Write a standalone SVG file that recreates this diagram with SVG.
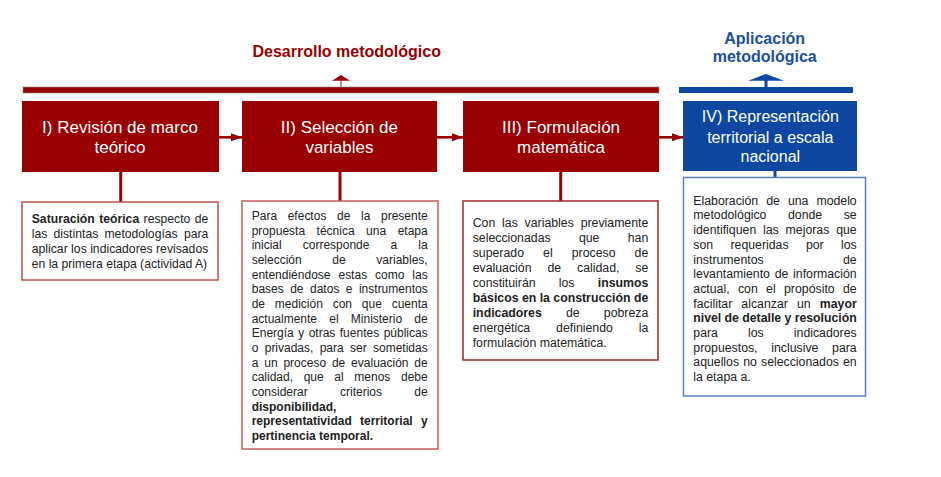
<svg xmlns="http://www.w3.org/2000/svg" width="941" height="477" viewBox="0 0 941 477">
<style>
.t{font-family:"Liberation Sans",Arial,sans-serif;fill:#222}
.b{font-weight:bold}
.hd{font-family:"Liberation Sans",Arial,sans-serif;font-weight:bold;font-size:16px;text-anchor:middle}
.nt{font-family:"Liberation Sans",Arial,sans-serif;fill:#fff;text-anchor:middle}
.red{fill:#990000}
.blue{fill:#0D47A1}
.conn{stroke:#990000;stroke-width:2.6;fill:none}
.f1{font-size:12.2px}
.f2{font-size:12px}
.f3{font-size:12.3px}
</style>
<defs>
<marker id="ah" viewBox="0 0 11 8" refX="11" refY="4" markerWidth="11" markerHeight="8" markerUnits="userSpaceOnUse" orient="auto">
<path d="M0,0 L11,4 L0,8 z" fill="#990000"/>
</marker>
</defs>
<rect width="941" height="477" fill="#fff"/>

<g id="header-desarrollo">
<text class="hd" x="346.7" y="56.7" fill="#990000">Desarrollo metodológico</text>
<rect x="23" y="87" width="636" height="6" fill="#990000" stroke="#8a8a8a" stroke-width="0.6"/>
<line x1="341" y1="80.5" x2="341" y2="87" stroke="#8a8a8a" stroke-width="1.6"/>
<polygon points="332,80.7 350,80.7 341,75" fill="#990000"/>
</g>

<g id="header-aplicacion">
<text class="hd" x="764.7" y="44" fill="#1A4FA3">Aplicación</text>
<text class="hd" x="764.7" y="62.3" fill="#1A4FA3">metodológica</text>
<rect x="679" y="87" width="174" height="6" fill="#0D47A1"/>
<rect x="764.5" y="80" width="3" height="7" fill="#0D47A1"/>
<polygon points="748,80.7 784,80.7 766,74" fill="#0D47A1"/>
</g>

<g id="connectors">
<line class="conn" x1="219" y1="137.3" x2="242" y2="137.3" marker-end="url(#ah)"/>
<line class="conn" x1="437" y1="137.3" x2="463" y2="137.3" marker-end="url(#ah)"/>
<line class="conn" x1="659" y1="137.3" x2="683" y2="137.3" marker-end="url(#ah)"/>
<line stroke="#990000" stroke-width="3" x1="120.7" y1="172" x2="120.7" y2="202"/>
<line stroke="#990000" stroke-width="3" x1="340" y1="172" x2="340" y2="201"/>
<line stroke="#990000" stroke-width="3" x1="560.7" y1="172" x2="560.7" y2="201"/>
<line stroke="#0D47A1" stroke-width="3" x1="775" y1="171" x2="775" y2="177.5"/>
</g>

<g id="node-1">
<rect class="red" x="22" y="101" width="197" height="71"/>
<text class="nt" x="120" y="132.7" font-size="17">I) Revisión de marco</text>
<text class="nt" x="120" y="153.3" font-size="17">teórico</text>
</g>

<g id="node-2">
<rect class="red" x="242" y="101" width="195" height="71"/>
<text class="nt" x="339.4" y="132.7" font-size="17">II) Selección de</text>
<text class="nt" x="339.4" y="153.3" font-size="17">variables</text>
</g>

<g id="node-3">
<rect class="red" x="463" y="101" width="196" height="71"/>
<text class="nt" x="561" y="132.7" font-size="17">III) Formulación</text>
<text class="nt" x="561" y="153.3" font-size="17">matemática</text>
</g>

<g id="node-4">
<rect class="blue" x="683" y="101" width="174" height="70"/>
<text class="nt" x="770.3" y="122.3" font-size="16">IV) Representación</text>
<text class="nt" x="770.3" y="142.7" font-size="16">territorial a escala</text>
<text class="nt" x="770.3" y="162.3" font-size="16">nacional</text>
</g>

<g id="note-1">
<rect x="22" y="202" width="196" height="78" fill="#fff" stroke="#C0504D" stroke-width="1.5"/>
<text class="t f1" x="31.7" y="223.3" textLength="176.6" lengthAdjust="spacing" style="word-spacing:1px"><tspan class="b">Saturación teórica</tspan> respecto de</text>
<text class="t f1" x="31.7" y="238.2" textLength="176.6" lengthAdjust="spacing" style="word-spacing:2.8px">las distintas metodologías para</text>
<text class="t f1" x="31.7" y="253.1" textLength="176.6" lengthAdjust="spacing">aplicar los indicadores revisados</text>
<text class="t f1" x="31.7" y="268">en la primera etapa (actividad A)</text>
</g>

<g id="note-2">
<rect x="242" y="201" width="196" height="248" fill="#fff" stroke="#C85A5A" stroke-width="1.5"/>
<text class="t f2" x="251.7" y="220" textLength="176" lengthAdjust="spacing" style="word-spacing:7.3px">Para efectos de la presente</text>
<text class="t f2" x="251.7" y="234.67" textLength="176" lengthAdjust="spacing" style="word-spacing:8.2px">propuesta técnica una etapa</text>
<text class="t f2" x="251.7" y="249.33" textLength="176" lengthAdjust="spacing" style="word-spacing:17.8px">inicial corresponde a la</text>
<text class="t f2" x="251.7" y="264" textLength="176" lengthAdjust="spacing" style="word-spacing:27.3px">selección de variables,</text>
<text class="t f2" x="251.7" y="278.67" textLength="176" lengthAdjust="spacing" style="word-spacing:4.6px">entendiéndose estas como las</text>
<text class="t f2" x="251.7" y="293.33" textLength="176" lengthAdjust="spacing" style="word-spacing:3.1px">bases de datos e instrumentos</text>
<text class="t f2" x="251.7" y="308" textLength="176" lengthAdjust="spacing" style="word-spacing:6.5px">de medición con que cuenta</text>
<text class="t f2" x="251.7" y="322.67" textLength="176" lengthAdjust="spacing" style="word-spacing:8.9px">actualmente el Ministerio de</text>
<text class="t f2" x="251.7" y="337.33" textLength="176" lengthAdjust="spacing" style="word-spacing:1.1px">Energía y otras fuentes públicas</text>
<text class="t f2" x="251.7" y="352" textLength="176" lengthAdjust="spacing" style="word-spacing:3px">o privadas, para ser sometidas</text>
<text class="t f2" x="251.7" y="366.67" textLength="176" lengthAdjust="spacing" style="word-spacing:2.5px">a un proceso de evaluación de</text>
<text class="t f2" x="251.7" y="381.33" textLength="176" lengthAdjust="spacing" style="word-spacing:7.3px">calidad, que al menos debe</text>
<text class="t f2" x="251.7" y="396" textLength="176" lengthAdjust="spacing" style="word-spacing:29px">considerar criterios de</text>
<text class="t f2 b" x="251.7" y="410.67">disponibilidad,</text>
<text class="t f2 b" x="251.7" y="425.33" textLength="176" lengthAdjust="spacing" style="word-spacing:5px">representatividad territorial y</text>
<text class="t f2 b" x="251.7" y="440">pertinencia temporal.</text>
</g>

<g id="note-3">
<rect x="463" y="201" width="195" height="159" fill="#fff" stroke="#A3262A" stroke-width="1.5"/>
<text class="t f3" x="472.7" y="227.3" textLength="175.6" lengthAdjust="spacing" style="word-spacing:3.4px">Con las variables previamente</text>
<text class="t f3" x="472.7" y="242.3" textLength="175.6" lengthAdjust="spacing" style="word-spacing:24.9px">seleccionadas que han</text>
<text class="t f3" x="472.7" y="257.3" textLength="175.6" lengthAdjust="spacing" style="word-spacing:15.7px">superado el proceso de</text>
<text class="t f3" x="472.7" y="272.3" textLength="175.6" lengthAdjust="spacing" style="word-spacing:12.5px">evaluación de calidad, se</text>
<text class="t f3" x="472.7" y="287.3" textLength="175.6" lengthAdjust="spacing" style="word-spacing:19.8px">constituirán los <tspan class="b">insumos</tspan></text>
<text class="t f3 b" x="472.7" y="302.3" textLength="175.6" lengthAdjust="spacing">básicos en la construcción de</text>
<text class="t f3" x="472.7" y="317.3" textLength="175.6" lengthAdjust="spacing" style="word-spacing:20.8px"><tspan class="b">indicadores</tspan> de pobreza</text>
<text class="t f3" x="472.7" y="332.3" textLength="175.6" lengthAdjust="spacing" style="word-spacing:22.5px">energética definiendo la</text>
<text class="t f3" x="472.7" y="347.3">formulación matemática.</text>
</g>

<g id="note-4">
<rect x="683.5" y="177.5" width="182" height="218.5" fill="#fff" stroke="#5B80C2" stroke-width="1.5"/>
<text class="t f3" x="693.3" y="204.7" textLength="163.4" lengthAdjust="spacing" style="word-spacing:4.6px">Elaboración de una modelo</text>
<text class="t f3" x="693.3" y="219.4" textLength="163.4" lengthAdjust="spacing" style="word-spacing:18.1px">metodológico donde se</text>
<text class="t f3" x="693.3" y="234.1" textLength="163.4" lengthAdjust="spacing" style="word-spacing:3.4px">identifiquen las mejoras que</text>
<text class="t f3" x="693.3" y="248.8" textLength="163.4" lengthAdjust="spacing" style="word-spacing:13.9px">son requeridas por los</text>
<text class="t f3" x="693.3" y="263.5" textLength="163.4" lengthAdjust="spacing" style="word-spacing:75.9px">instrumentos de</text>
<text class="t f3" x="693.3" y="278.2" textLength="163.4" lengthAdjust="spacing" style="word-spacing:1.3px">levantamiento de información</text>
<text class="t f3" x="693.3" y="292.9" textLength="163.4" lengthAdjust="spacing" style="word-spacing:4.9px">actual, con el propósito de</text>
<text class="t f3" x="693.3" y="307.6" textLength="163.4" lengthAdjust="spacing" style="word-spacing:5.7px">facilitar alcanzar un <tspan class="b">mayor</tspan></text>
<text class="t f3 b" x="693.3" y="322.3" textLength="163.4" lengthAdjust="spacing">nivel de detalle y resolución</text>
<text class="t f3" x="693.3" y="337" textLength="163.4" lengthAdjust="spacing" style="word-spacing:26.7px">para los indicadores</text>
<text class="t f3" x="693.3" y="351.7" textLength="163.4" lengthAdjust="spacing" style="word-spacing:10.3px">propuestos, inclusive para</text>
<text class="t f3" x="693.3" y="366.4" textLength="163.4" lengthAdjust="spacing" style="word-spacing:0.7px">aquellos no seleccionados en</text>
<text class="t f3" x="693.3" y="381.1">la etapa a.</text>
</g>
</svg>
